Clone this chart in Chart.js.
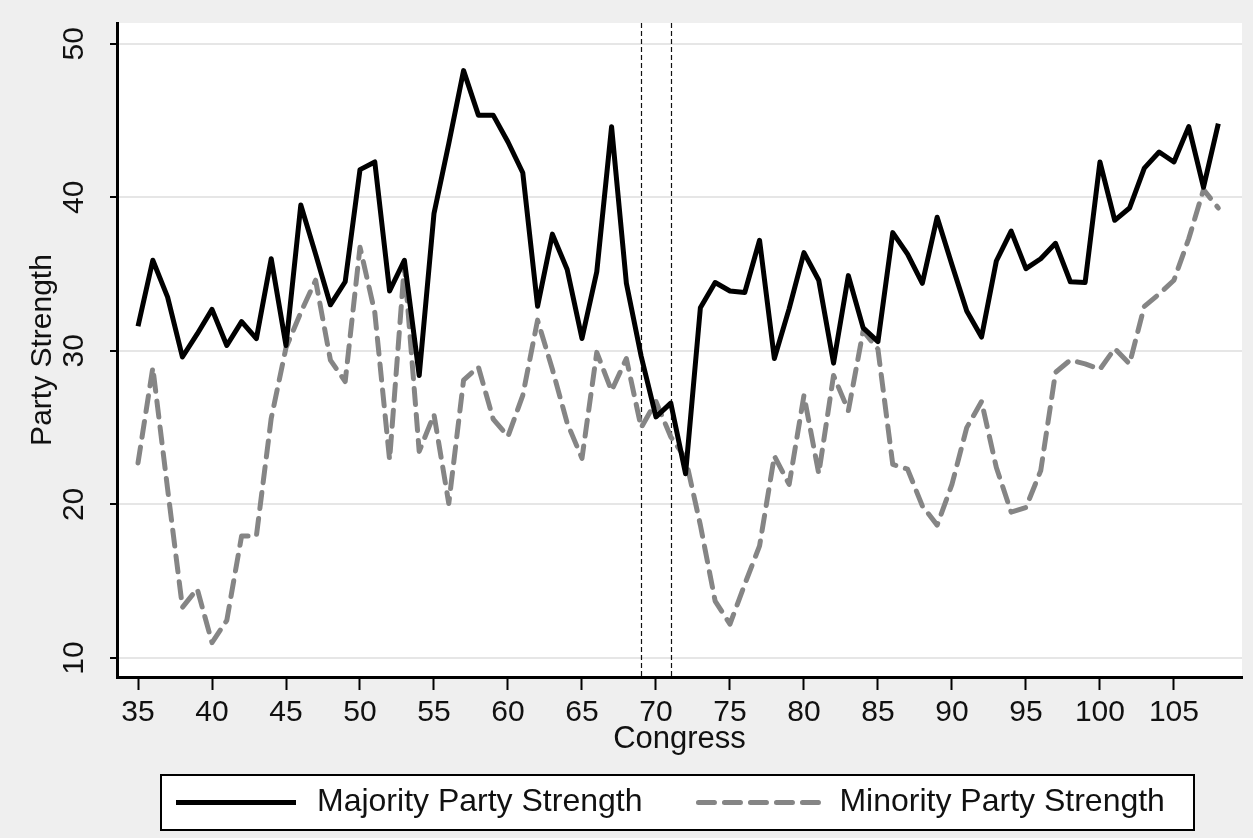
<!DOCTYPE html>
<html lang="en">
<head>
    <meta charset="UTF-8">
    <title>Party Strength by Congress</title>
    <style>
        body { margin: 0; background: #efefef; }
        canvas { display: block; }
    </style>
</head>
<body>
<canvas id="myChart" width="1253" height="838"></canvas>

<script src="https://cdn.jsdelivr.net/npm/chart.js"></script>
<script>
// Congress number (x) and party strength values
const congress = [35, 36, 37, 38, 39, 40, 41, 42, 43, 44, 45, 46, 47, 48, 49, 50, 51, 52, 53, 54,
                  55, 56, 57, 58, 59, 60, 61, 62, 63, 64, 65, 66, 67, 68, 69, 70, 71, 72, 73, 74,
                  75, 76, 77, 78, 79, 80, 81, 82, 83, 84, 85, 86, 87, 88, 89, 90, 91, 92, 93, 94,
                  95, 96, 97, 98, 99, 100, 101, 102, 103, 104, 105, 106, 107, 108];
const majority = [31.6, 35.9, 33.5, 29.6, 31.1, 32.7, 30.35, 31.9, 30.8, 36.0, 30.35, 39.5, 36.3, 33.0, 34.5, 41.8, 42.3, 33.9, 35.9, 28.4,
                  38.95, 43.5, 48.25, 45.35, 45.35, 43.6, 41.6, 32.9, 37.6, 35.3, 30.8, 35.15, 44.6, 34.4, 29.65, 25.7, 26.6, 22.0, 32.8, 34.45,
                  33.9, 33.8, 37.2, 29.5, 32.75, 36.4, 34.6, 29.2, 34.9, 31.5, 30.6, 37.7, 36.3, 34.4, 38.7, 35.6, 32.6, 30.9, 35.85, 37.8,
                  35.35, 36.0, 37.0, 34.5, 34.45, 42.3, 38.5, 39.3, 41.9, 42.95, 42.3, 44.6, 40.65, 44.8];
const minority = [22.7, 28.9, 21.0, 13.3, 14.5, 11.0, 12.45, 17.95, 17.95, 25.6, 30.2, 32.5, 34.6, 29.4, 28.0, 36.75, 32.5, 22.9, 35.6, 23.45,
                  25.85, 20.06, 28.1, 28.95, 25.56, 24.43, 27.1, 32.0, 28.8, 25.3, 23.0, 29.9, 27.4, 29.5, 25.0, 26.7, 24.4, 23.0, 18.65, 13.7,
                  12.2, 14.8, 17.3, 23.15, 21.3, 27.1, 22.0, 28.4, 26.1, 31.3, 30.1, 22.6, 22.3, 19.9, 18.65, 21.3, 25.0, 26.7, 22.4, 19.5,
                  19.8, 22.2, 28.6, 29.4, 29.15, 28.8, 30.15, 29.15, 32.9, 33.7, 34.6, 37.3, 40.5, 39.3];
const xTicks = [35, 40, 45, 50, 55, 60, 65, 70, 75, 80, 85, 90, 95, 100, 105];
const yTicks = [10, 20, 30, 40, 50];
const refLines = [69, 71];   // dashed vertical markers

const FONT = 'Liberation Sans, Arial, sans-serif';

// stata-ish look: grey page, white plot region, rotated y labels, boxed legend
const stataLook = {
    id: 'stataLook',
    beforeDraw(chart) {
        const {ctx, chartArea: a} = chart;
        ctx.save();
        ctx.fillStyle = '#efefef';
        ctx.fillRect(0, 0, chart.width, chart.height);
        ctx.fillStyle = '#ffffff';
        ctx.fillRect(a.left, a.top, a.right - a.left, a.bottom - a.top);
        ctx.restore();
    },
    beforeDatasetsDraw(chart) {
        const {ctx, chartArea: a, scales} = chart;
        ctx.save();
        ctx.strokeStyle = '#111';
        ctx.lineWidth = 1.2;
        ctx.setLineDash([5, 3]);
        refLines.forEach(v => {
            const x = Math.round(scales.x.getPixelForValue(v)) + 0.5;
            ctx.beginPath();
            ctx.moveTo(x, a.top);
            ctx.lineTo(x, a.bottom);
            ctx.stroke();
        });
        ctx.restore();
    },
    afterDraw(chart) {
        const {ctx, scales} = chart;
        // y tick labels, rotated like the original
        ctx.save();
        ctx.fillStyle = '#111';
        ctx.font = '30px ' + FONT;
        ctx.textAlign = 'center';
        ctx.textBaseline = 'middle';
        scales.y.ticks.forEach(t => {
            const y = scales.y.getPixelForValue(t.value);
            ctx.save();
            ctx.translate(75, y);
            ctx.rotate(-Math.PI / 2);
            ctx.fillText(String(t.value), 0, 0);
            ctx.restore();
        });
        ctx.restore();

        // legend box
        const box = {left: 161, top: 775, width: 1033, height: 55};
        ctx.save();
        ctx.fillStyle = '#ffffff';
        ctx.fillRect(box.left, box.top, box.width, box.height);
        ctx.strokeStyle = '#000';
        ctx.lineWidth = 2;
        ctx.strokeRect(box.left, box.top, box.width, box.height);
        ctx.font = '32px ' + FONT;
        ctx.textBaseline = 'middle';
        ctx.textAlign = 'left';
        const cy = box.top + box.height / 2;
        let x = box.left + 12;
        chart.data.datasets.forEach(ds => {
            ctx.strokeStyle = ds.borderColor;
            ctx.lineWidth = ds.borderWidth;
            ctx.lineCap = ds.borderCapStyle || 'butt';
            ctx.setLineDash(ds.borderDash || []);
            ctx.beginPath();
            ctx.moveTo(x + 3, cy);
            ctx.lineTo(x + 123, cy);
            ctx.stroke();
            ctx.setLineDash([]);
            x += 126 + 18;
            ctx.fillStyle = '#111';
            ctx.fillText(ds.label, x, cy);
            x += ctx.measureText(ds.label).width + 53;
        });
        ctx.restore();
    }
};

const ctx = document.getElementById('myChart').getContext('2d');
const myChart = new Chart(ctx, {
    type: 'line',
    data: {
        datasets: [{
            label: 'Majority Party Strength',
            data: congress.map((c, i) => ({x: c, y: majority[i]})),
            borderColor: '#000000',
            borderWidth: 5,
            borderJoinStyle: 'round',
            pointRadius: 0,
            tension: 0
        }, {
            label: 'Minority Party Strength',
            data: congress.map((c, i) => ({x: c, y: minority[i]})),
            borderColor: '#858585',
            borderWidth: 5,
            borderDash: [16, 10],
            borderCapStyle: 'round',
            borderJoinStyle: 'round',
            pointRadius: 0,
            tension: 0
        }]
    },
    options: {
        responsive: false,
        animation: false,
        devicePixelRatio: 1,
        layout: { padding: { top: 23, right: 11, bottom: 0, left: 0 } },
        plugins: {
            legend: { display: false },
            tooltip: { enabled: false }
        },
        scales: {
            x: {
                type: 'linear',
                min: 33.58,
                max: 109.6,
                afterBuildTicks: s => { s.ticks = xTicks.map(v => ({value: v})); },
                afterFit: s => { s.height = 161; },
                grid: { display: true, drawOnChartArea: false, drawTicks: true, tickLength: 13, tickColor: '#000', tickWidth: 2 },
                border: { display: true, color: '#000', width: 3 },
                ticks: { color: '#111', font: { size: 30, family: FONT }, padding: 5, maxRotation: 0, autoSkip: false },
                title: { display: true, text: 'Congress', color: '#111', font: { size: 31, family: FONT }, padding: { top: 0, bottom: 80 } }
            },
            y: {
                min: 8.76,
                max: 51.35,
                afterBuildTicks: s => { s.ticks = yTicks.map(v => ({value: v})); },
                afterFit: s => { s.width = 117; },
                grid: { color: '#e6e6e6', lineWidth: 2, drawTicks: true, tickLength: 7, tickColor: '#000', tickWidth: 2 },
                border: { display: true, color: '#000', width: 3 },
                ticks: { display: false },
                title: { display: true, text: 'Party Strength', color: '#111', font: { size: 30, family: FONT }, padding: { top: 25, bottom: 0 } }
            }
        }
    },
    plugins: [stataLook]
});
</script>
</body>
</html>
